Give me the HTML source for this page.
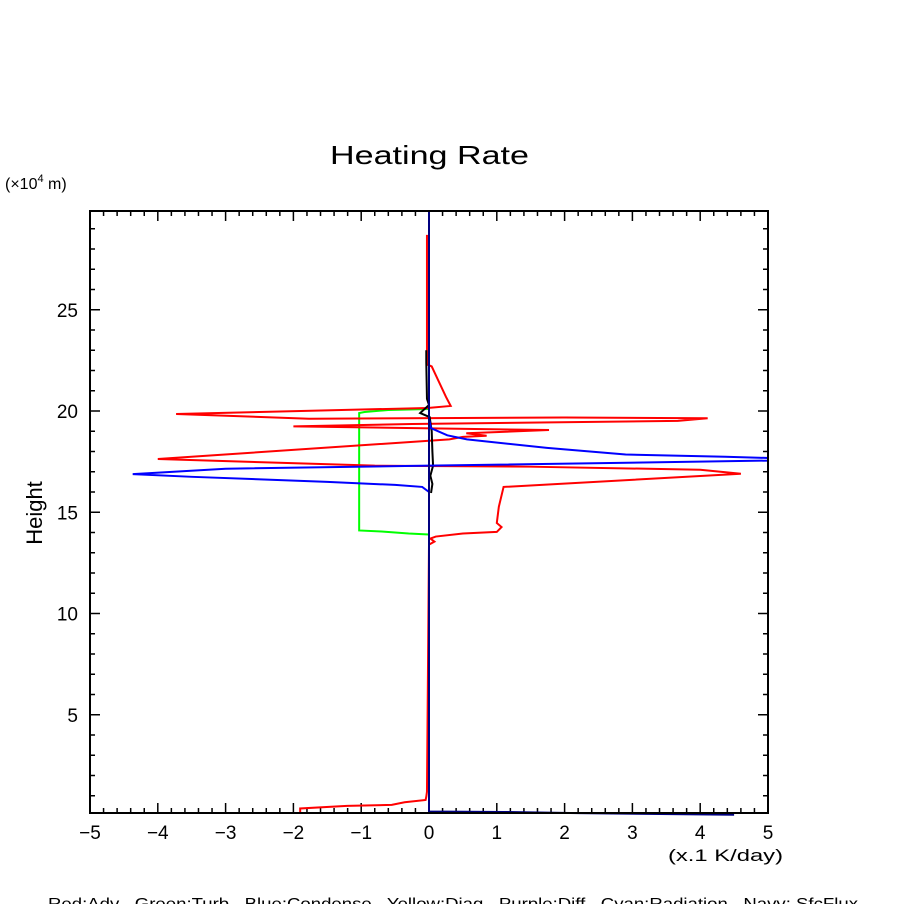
<!DOCTYPE html>
<html><head><meta charset="utf-8"><style>
body{margin:0;background:#fff;}
svg text{font-family:"Liberation Sans",sans-serif;fill:#000;white-space:pre;}
</style></head><body>
<svg id="chart" width="904" height="904" viewBox="0 0 904 904" xmlns="http://www.w3.org/2000/svg">
<rect width="904" height="904" fill="#fff"/>
<text x="330" y="164" font-size="26" textLength="199" lengthAdjust="spacingAndGlyphs">Heating Rate</text>
<text x="5" y="189" font-size="16">(×10<tspan font-size="11" dy="-7">4</tspan><tspan dy="7"> m)</tspan></text>
<text x="42" y="513" font-size="22" text-anchor="middle" transform="rotate(-90 42 513)">Height</text>
<text x="668" y="861" font-size="17" textLength="115" lengthAdjust="spacingAndGlyphs">(x.1 K/day)</text>
<text x="48" y="909" font-size="16" textLength="810" lengthAdjust="spacingAndGlyphs">Red:Adv   Green:Turb   Blue:Condense   Yellow:Diag   Purple:Diff   Cyan:Radiation   Navy: SfcFlux</text>
<g id="axes"></g>
<g id="series"></g>
<rect x="90" y="211" width="678" height="602" fill="none" stroke="#000" stroke-width="2"/>
</svg>
<script>
const xTicks=[-5,-4,-3,-2,-1,0,1,2,3,4,5];
const yTicks=[5,10,15,20,25];
const redV=[-0.03,-0.03,0.04,0.25,0.32,-0.02,-1.89,-3.73,-1.77,2.0,4.11,3.67,-0.25,-2.0,1.77,0.55,0.85,0.5,0.3,-4.0,-0.8,1.5,4.0,4.6,1.1,1.03,1.0,1.07,1.0,0.5,0.1,0.02,0.08,0.0,-0.03,-0.04,-0.05,-0.36,-0.55,-1.21,-1.9,-1.9];
const redH=[28.7,22.3,22.2,20.7,20.25,20.15,20.0,19.85,19.62,19.68,19.64,19.51,19.36,19.24,19.06,18.9,18.78,18.72,18.6,17.63,17.3,17.25,17.1,16.9,16.25,15.27,14.47,14.27,14.03,13.95,13.8,13.7,13.55,13.4,1.2,0.95,0.79,0.68,0.55,0.5,0.37,0.2];
const greenV=[0,-0.6,-0.95,-1.03,-1.03,-0.7,-0.3,0];
const greenH=[20.1,20.05,19.95,19.9,14.1,14.05,13.95,13.9];
const blueV=[0,0,0.03,0.27,0.56,1.74,2.9,4.37,5.0,5.0,0.0,-3.0,-4.37,-3.5,-1.5,-0.5,-0.1,0,0];
const blueH=[29.9,19.6,19.15,18.8,18.6,18.18,17.85,17.74,17.68,17.55,17.3,17.15,16.88,16.75,16.5,16.35,16.25,16.0,0.3];
const blackV=[-0.04,-0.04,-0.03,0.0,-0.13,0.01,0.04,0.05,0.06,0.02,0.05,0.03];
const blackH=[23.0,22.4,20.6,20.3,19.9,19.7,19.0,18.0,17.3,16.8,16.4,15.95];
const navyV=[0,0,0.0,1.1,2.2,3.4,4.5];
const navyH=[29.9,0.15,0.22,0.2,0.14,0.1,0.06];
const X=v=>429+v*67.8, Y=h=>816-h*20.25;
const NS="http://www.w3.org/2000/svg";
const axes=document.getElementById('axes'), ser=document.getElementById('series');
function ln(x1,y1,x2,y2,p){const l=document.createElementNS(NS,'line');l.setAttribute('x1',x1);l.setAttribute('y1',y1);l.setAttribute('x2',x2);l.setAttribute('y2',y2);l.setAttribute('stroke','#000');l.setAttribute('stroke-width',1.5);p.appendChild(l);return l;}
for(let v=-5;v<=5.001;v+=0.2){const m=Math.abs(v-Math.round(v))<0.01;const L=m?10:5;
 const a=ln(X(v),813,X(v),813-L,axes);
 const b=ln(X(v),211,X(v),211+L,axes);}
for(let h=1;h<=29;h++){const m=h%5===0;const L=m?10:5;
 const a=ln(90,Y(h),90+L,Y(h),axes);
 const b=ln(768,Y(h),768-L,Y(h),axes);}
xTicks.forEach(v=>{const t=document.createElementNS(NS,'text');t.setAttribute('x',X(v));t.setAttribute('y',839);t.setAttribute('font-size',19);t.setAttribute('text-anchor','middle');t.textContent=(v<0?'\u2212'+(-v):v);
 
 
 axes.appendChild(t);});
yTicks.forEach(h=>{const t=document.createElementNS(NS,'text');t.setAttribute('x',78);t.setAttribute('y',Y(h)+7);t.setAttribute('font-size',19);t.setAttribute('text-anchor','end');t.textContent=h;
 
 
 axes.appendChild(t);});
function series(vs,hs,col,name){const p=document.createElementNS(NS,'polyline');
 p.setAttribute('points',vs.map((v,i)=>X(v)+','+Y(hs[i])).join(' '));
 p.setAttribute('fill','none');p.setAttribute('stroke',col);p.setAttribute('stroke-width',2);
 
 
 ser.appendChild(p);}
series(greenV,greenH,'#00ff00','turb-line');
series(redV,redH,'#ff0000','adv-line');
series(blackV,blackH,'#000000','black-line');
series(blueV,blueH,'#0000ff','condense-line');
series(navyV,navyH,'#000080','sfcflux-line');
</script>
</body></html>
